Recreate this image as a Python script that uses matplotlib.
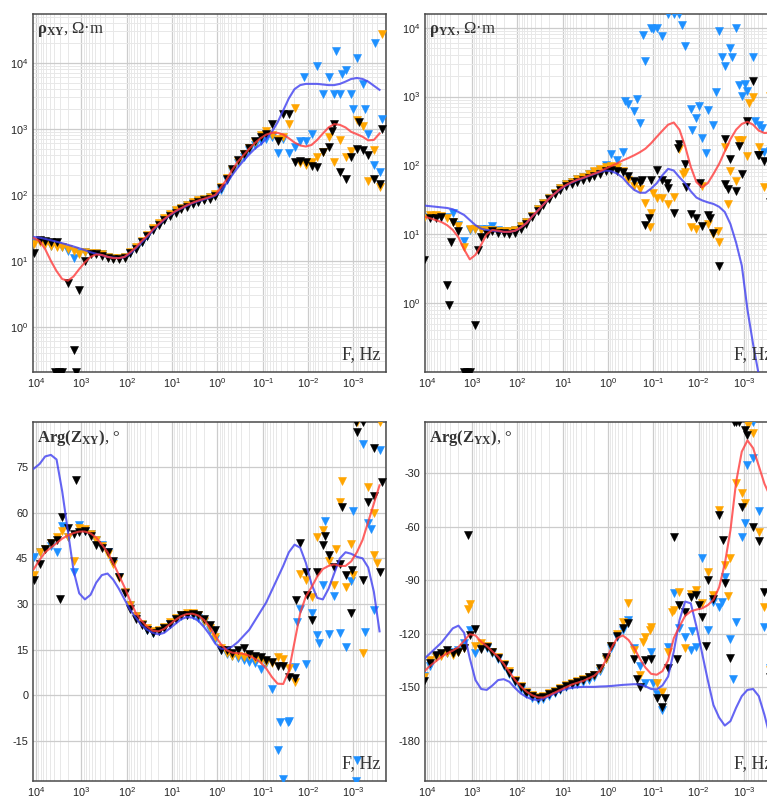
import numpy as np
import matplotlib
matplotlib.use("Agg")
import matplotlib.pyplot as plt
from matplotlib.ticker import FixedLocator, LogLocator, MultipleLocator, FuncFormatter, NullFormatter

plt.rcParams['font.family'] = ['Liberation Sans', 'DejaVu Sans']
plt.rcParams['mathtext.fontset'] = 'custom'
plt.rcParams['mathtext.rm'] = 'Liberation Serif'
plt.rcParams['mathtext.bf'] = 'Liberation Serif:bold'
plt.rcParams['mathtext.it'] = 'Liberation Serif:italic'
plt.rcParams['mathtext.sf'] = 'Liberation Sans'
plt.rcParams['axes.unicode_minus'] = False

# log10 of frequency (Hz) for every sounding
log_f = [4.05, 3.925, 3.8, 3.675, 3.55, 3.425, 3.3, 3.175,
         3.05, 2.925, 2.8, 2.675, 2.55, 2.425, 2.3, 2.175,
         2.05, 1.925, 1.8, 1.675, 1.55, 1.425, 1.3, 1.175,
         1.05, 0.925, 0.8, 0.675, 0.55, 0.425, 0.3, 0.175,
         0.05, -0.075, -0.2, -0.325, -0.45, -0.575, -0.7, -0.825,
         -0.95, -1.075, -1.2, -1.325, -1.45, -1.575, -1.7, -1.825,
         -1.95, -2.075, -2.2, -2.325, -2.45, -2.575, -2.7, -2.825,
         -2.95, -3.075, -3.2, -3.325, -3.45, -3.575]

# ---------------- rho_xy, Ohm*m ----------------
rxy_red = [22, 20, 15, 10, 7, 5.3, 5.0, 5.8,
           7.5, 9.5, 11.5, 12.5, 12.3, 11.5, 11, 11,
           11.5, 13.5, 16, 20, 24, 30, 36, 43,
           50, 57, 63, 70, 76, 82, 87, 93,
           100, 130, 170, 240, 320, 400, 500, 610,
           720, 820, 870, 870, 820, 720, 620, 560,
           540, 570, 680, 850, 1050, 1180, 1150, 1050,
           900, 830, 760, 670, 680, 850]
rxy_blue = [23, 22.5, 21.5, 20.5, 19.5, 18.5, 17.5, 16.5,
            15.5, 14.5, 13.5, 12.8, 12.2, 11.5, 11.2, 11,
            11.4, 13, 15.5, 19, 23, 29, 35, 42,
            49, 56, 62, 68, 75, 80, 85, 90,
            97, 115, 150, 200, 260, 330, 410, 500,
            580, 700, 900, 1250, 1900, 2900, 4000, 4600,
            4800, 4800, 4800, 4700, 4600, 4600, 4800, 5200,
            5700, 5900, 5700, 5200, 4500, 3900]
rxy_k = [13, 21, 20, 19.5, 19, 0.21, 4.6, 0.45,
         3.6, 10, 12.5, 12.5, 12, 11, 10.5, 10.5,
         11, 13, 15, 19, 23.5, 29, 35, 41,
         47, 54, 60, 66, 72, 78, 83, 88,
         95, 125, 175, 250, 340, 420, 520, 650,
         760, 850, 1200, 650, 1700, 1700, 320, 330,
         310, 270, 260, 450, 540, 1200, 220, 175,
         370, 500, 470, 400, 174, 148]
rxy_o = [18, 19, 18, 17, 16, 16, 15, 14,
         12.5, 13.5, 13, 13, 12.5, 11.5, 11, 11,
         11.5, 13.5, 16, 20, 25, 31, 37, 44,
         51, 58, 64, 71, 77, 83, 88, 94,
         102, 130, 180, 240, 330, 420, 520, 640,
         800, 930, 820, 710, 760, 1200, 2100, 300,
         280, 310, 370, 450, 740, 320, 680, 370,
         460, 1350, 1100, 160, 470, 130]
rxy_b = [19, 20, 19, 17, 16.5, 16, 14, 11,
         13, 13.5, 13, 13, 12.5, 11.5, 11, 11,
         11.5, 13, 15.5, 19.5, 24, 30, 36, 43,
         50, 57, 63, 70, 76, 82, 87, 92,
         100, 120, 165, 230, 300, 380, 470, 560,
         650, 700, 750, 430, 700, 430, 525, 650,
         660, 830, 9100, 3400, 6000, 3400, 3400, 7800,
         3400, 11700, 4800, 830, 280, 220]
rxy_k_xf = [3.58, 3.5, 3.12, -2.53, -3.12, -3.63]
rxy_k_xv = [0.21, 0.21, 0.21, 930, 1260, 1000]
rxy_o_xf = [-3.63]
rxy_o_xv = [27000]
rxy_b_xf = [-1.9, -2.62, -2.75, -2.99, -3.25, -3.47, -3.63]
rxy_b_xv = [6000, 15000, 6800, 2000, 2000, 20000, 1400]

# ---------------- rho_yx, Ohm*m ----------------
ryx_red = [18, 17, 16, 15, 13.5, 11.5, 9, 6,
           4.3, 5.0, 7, 10, 11.5, 11.2, 10.8, 10.8,
           11.2, 12.5, 14.5, 18, 22, 27, 33, 39,
           46, 52, 57, 62, 66, 71, 76, 82,
           90, 98, 107, 118, 128, 140, 155, 175,
           210, 260, 320, 390, 420, 330, 190, 95,
           57, 48, 55, 75, 105, 160, 240, 330,
           400, 430, 390, 320, 295, 300]
ryx_blue = [26, 25.5, 25, 24.5, 24, 23, 21, 19,
            16, 13.5, 12, 11.5, 11.2, 11, 10.8, 10.8,
            11.2, 12.5, 14.5, 18, 22, 27, 33, 39,
            45, 51, 56, 61, 65, 70, 75, 80,
            84, 82, 76, 66, 53, 44, 40, 40,
            46, 55, 72, 89, 84, 67, 55, 42,
            34, 31, 29, 27.5, 25, 21, 14, 7.5,
            3.5, 0.8, 0.25, 0.09, 0.03, 0.01]
ryx_k = [4.2, 17, 17, 17.5, 1.85, 15, 11, 0.1,
         0.1, 0.48, 9, 10, 11, 10.5, 10.5, 10.2,
         10.5, 12, 14, 17.5, 21.5, 26.5, 32, 38,
         44, 50, 54, 58, 62, 66, 70, 76,
         82, 85, 84, 80, 71, 59, 57, 13.8,
         62, 87, 62, 47, 20, 205, 104, 19.5,
         17, 13, 19, 10.5, 3.5, 240, 124, 42,
         75, 435, 1700, 140, 117, 29]
ryx_o = [17, 19, 19, 18.5, 17, 15, 13, 6.5,
         12, 12, 11.5, 11.5, 11.5, 11, 11, 11,
         11.5, 13, 15, 18.5, 23, 28, 34, 40,
         47, 53, 58, 63, 68, 74, 82, 90,
         95, 98, 95, 83, 62, 50, 46, 28,
         20, 33, 34, 27, 35, 175, 80, 12.5,
         12, 50, 14, 10, 7.6, 182, 83, 60,
         230, 138, 1000, 186, 48, 1020]
ryx_b = [17, 18, 18, 18, 17.5, 20, 13.5, 8,
         11.5, 12, 12, 12, 13, 11.5, 11, 11,
         11.5, 13, 15, 18.5, 23, 28, 34, 40,
         47, 53, 58, 63, 68, 74, 80, 87,
         100, 144, 120, 155, 790, 620, 415, 3300,
         10000, 10000, 7600, 15800, 15800, 15800, 5500, 660,
         490, 250, 630, 380, 9000, 2800, 5000, 10000,
         1030, 1200, 3700, 390, 155, 160]
ryx_k_xf = [3.51, 3.46, 3.12, 2.87, -0.74, -0.9, -1.29, -1.55, -1.73, -2.03, -2.25, -2.57, -2.65, -2.89, -3.3]
ryx_k_xv = [0.93, 7.8, 0.1, 5.9, 62, 17, 55, 180, 48, 55, 17, 53, 45, 190, 140]
ryx_o_xf = [-0.92, -1.0, -1.66, -2.42, -2.65, -2.87, -3.11]
ryx_o_xv = [12.5, 40, 74, 11, 27.5, 230, 815]
ryx_b_xf = [-0.37, -0.63, -0.77, -0.99, -1.64, -1.86, -2.01, -2.16, -2.38, -2.52, -2.74, -2.89, -3.02, -3.25, -3.39]
ryx_b_xv = [850, 910, 7900, 9500, 11000, 325, 740, 150, 1150, 3700, 3700, 1450, 1500, 435, 355]

# ---------------- Arg(Z_xy), degrees ----------------
pxy_red = [41.5, 44.5, 47, 48.5, 50, 51.5, 52.5, 53.3,
           53.8, 53.8, 53.2, 51.8, 49.5, 47, 43.5, 39.5,
           35.5, 31, 27, 24.5, 22.5, 21.2, 21, 21.8,
           23.3, 24.8, 26, 26.7, 26.8, 26.2, 24.8, 22.5,
           19.5, 16.8, 14.8, 14, 13.8, 13.6, 13, 12,
           10.8, 8.8, 6, 3.8, 3.7, 8, 17.5, 27,
           32.5, 35.5, 39, 41.5, 42.5, 43, 42.5, 42.5,
           44, 47, 51, 57, 63, 69]
pxy_blue = [74.5, 76, 78.5, 79, 77.5, 67, 54, 41,
            33.5, 31.5, 33, 37, 39.5, 40, 38, 35,
            31.5, 28, 25.5, 23, 21.5, 20.5, 20, 20.5,
            22, 23.5, 25, 25.7, 25.5, 24.5, 22.5, 20,
            17, 15.3, 15.2, 16, 17.5, 19.5, 21.5, 24.5,
            27.5, 30.5, 34.5, 38.5, 42.5, 47, 49.5, 48.5,
            43.5, 36.5, 32, 31.5, 35, 40, 45, 47,
            46.5, 45.5, 45, 42, 34, 21]
pxy_k = [38, 43, 48, 50, 51, 58.6, 55, 53,
         53.5, 54, 52.5, 49.5, 48.5, 47, 44, 39,
         33.5, 28.5, 25, 23, 21.5, 20.5, 21, 22,
         23.5, 25, 26.3, 26.5, 26.7, 26.3, 25.2, 23,
         21.4, 14.8, 15, 14, 14.8, 15.5, 13.5, 13,
         12.5, 11.5, 11, 9.5, 9.5, 6, 5.5, 50,
         40.5, 24.6, 40.5, 49.3, 46, 42.2, 43, 39.5,
         27, 86.5, 38, 63.5, 65.5, 40.5]
pxy_o = [39.4, 47, 48, 50, 52, 54, 52, 44,
         55, 54.5, 53, 51, 49, 46.5, 43, 38.5,
         34, 29.5, 26, 23.5, 22, 21, 21.5, 22.5,
         24, 25.5, 26.5, 27, 27, 26.5, 24.5, 22,
         19, 15.5, 14, 13, 12.8, 12.5, 13, 12,
         11.5, 11, 10.5, 12.6, 12, 8.8, 4.4, 40,
         37.8, 32.3, 52, 54.2, 44, 36.1, 63.5, 35.6,
         49.8, 89.8, 13.9, 68.4, 46, 89.8]
pxy_b = [45.4, 47, 48, 49, 47, 55.6, 52, 40.5,
         56, 54, 53, 51, 49.5, 47, 43.5, 39,
         34, 29.5, 26, 23.5, 21.5, 20.5, 21, 22.2,
         23.5, 25, 26, 26.5, 26.5, 25.5, 24, 21.5,
         18.5, 15, 13.5, 13, 12.2, 11.5, 11, 10.5,
         8.5, 10.5, 1.9, -18, -27.7, -8.5, 9.3, 28.5,
         10.4, 27, 19.8, 36.1, 20, 32.5, 20.5, 16,
         37.7, -21.4, 82.7, 56.6, 27.9, 80.5]
pxy_k_xf = [3.47, 3.12, -1.74, -1.97, -2.38, -2.75, -2.97, -3.05, -3.2, -3.46, -3.63]
pxy_k_xv = [31.7, 70.6, 31.2, 32.8, 52.3, 61.9, 41, 89.8, 89.8, 81.4, 70]
pxy_o_xf = [-2.62, -2.74, -3.0, -3.45, -3.52]
pxy_o_xv = [48.2, 70.4, 39.4, 60, 43.5]
pxy_b_xf = [-1.37, -1.55, -1.75, -2.23, -2.38, -2.99, -3.05, -3.25, -3.39]
pxy_b_xv = [-8.8, -8.8, 24, 17.3, 57.3, 60.5, -28.1, 20.8, 54.8]

# ---------------- Arg(Z_yx), degrees ----------------
pyx_red = [-141, -138, -135.5, -133, -131, -129.5, -127.5, -124,
           -120.3, -121, -124.5, -127, -130, -133, -137, -141.5,
           -146, -149.5, -152.5, -154.5, -155.7, -155.8, -154.5, -153,
           -151.5, -150, -148.5, -147.5, -146.5, -145, -143.5, -140.5,
           -135, -128, -122.5, -121, -123.5, -128, -134, -139,
           -142.5, -143, -141, -135, -122.5, -116, -110, -107.5,
           -106.5, -105.8, -104, -101, -94, -81, -62, -35,
           -18, -11.7, -16, -26, -36, -43]
pyx_blue = [-134, -131, -128, -125, -121, -117, -115.5, -119.5,
            -133.8, -146, -151, -151.5, -149, -146, -145.5, -147,
            -150.5, -153.5, -155.5, -156.8, -157.2, -156.5, -155, -153.5,
            -152, -151, -150.3, -150, -149.8, -149.8, -149.8, -149.6,
            -149.5, -149.3, -149, -148.7, -148.5, -148.3, -148.5, -149.5,
            -151, -151.2, -149, -144, -130, -112.5, -102, -103,
            -116, -131, -146, -160, -167, -171.5, -169, -161.5,
            -155, -151.5, -151, -155, -165.5, -178]
pyx_k = [-146.5, -136.6, -132, -130.6, -129.2, -131, -130, -128.2,
         -120.5, -117.4, -128.5, -127.5, -130.5, -133.5, -137.5, -142,
         -146.5, -150, -153, -155, -156, -155.5, -154, -152.5,
         -151, -149.5, -148, -147, -146, -144.5, -143, -139,
         -133, -127, -121.4, -117, -114, -134.4, -149.7, -134.9,
         -134.4, -156.3, -161.3, -139.4, -65.6, -103.9, -107.6, -99.2,
         -98.3, -110.4, -89.9, -100.8, -53.4, -91.7, -133.8, -1.4,
         -49.1, -8.5, -60, -68.3, -96.4, -144.5]
pyx_o = [-144, -134.6, -133, -132.5, -131, -132, -130, -128,
         -103.5, -127, -125, -127, -130, -133, -137, -141,
         -146, -149.5, -152.5, -154.5, -155.5, -155, -153.5, -152,
         -150.5, -149, -147.5, -146.5, -145.5, -144.5, -143, -140,
         -134, -127, -120, -113.2, -103, -129.2, -143.2, -121.7,
         -116.4, -147.8, -152.5, -130, -106.7, -96.4, -128.2, -98,
         -95.5, -103, -85.2, -98.3, -50.6, -81.5, -77.7, -35.6,
         -40.9, -2, -7.6, -62.8, -104.9, -140.4]
pyx_b = [-143.5, -138, -133, -132, -131, -130.5, -129, -125,
         -118, -131, -127, -128, -131, -134, -138, -142.5,
         -147, -151, -154, -156, -157, -156.5, -155, -153,
         -151.5, -150, -149, -148, -147, -146, -144.5, -141,
         -134, -128, -122, -118, -112.3, -128.2, -138.2, -147.8,
         -130.1, -153.9, -162.8, -127.3, -97.3, -117, -121.7, -129.2,
         -127.3, -77.7, -117.9, -102, -105, -88, -123.2, -113.3,
         -65.6, -25.3, -21.6, -51.5, -116, -139.4]
pyx_k_xf = [3.09, -0.63, -1.25, -1.51, -2.01, -2.16, -2.53, -2.78, -2.88, -3.02]
pyx_k_xv = [-64.6, -145.5, -156.3, -134.4, -103.9, -126.9, -67.4, -1.4, -1.4, -5.7]
pyx_o_xf = [3.09, -0.77, -0.92, -1.4, -2.65, -3.02, -3.12]
pyx_o_xv = [-106, -124.5, -118, -107.6, -98.9, -46.5, -2]
pyx_b_xf = [-1.0, -1.85, -2.51, -2.75, -3.02, -3.2]
pyx_b_xv = [-147.8, -118.3, -102, -145.6, -58, -1.4]

C_BLACK = '#000000'
C_ORANGE = '#ffa500'
C_CYAN = '#1e90ff'
C_RED = '#ff3b3b'
C_BLUE = '#3f3ff0'

fig = plt.figure(figsize=(7.67, 7.96), dpi=100)

W = 0.461
ax_rxy = fig.add_axes([0.0424, 0.533, W, 0.4494])
ax_ryx = fig.add_axes([0.5537, 0.533, W, 0.4494])
ax_pxy = fig.add_axes([0.0424, 0.0192, W, 0.4506])
ax_pyx = fig.add_axes([0.5537, 0.0192, W, 0.4506])


def dec_label(v, pos):
    if v <= 0:
        return ''
    e = int(round(np.log10(v)))
    return r'$\mathsf{10^{%d}}$' % e


def draw(ax, obs, extras, red, blue, xlim):
    f = 10 ** np.array(log_f)
    # observed sites: cyan below, orange, black on top
    for vals, (xf, xv), col, z in zip(obs, extras, [C_CYAN, C_ORANGE, C_BLACK], [3, 4, 5]):
        ax.plot(f, vals, 'v', color=col, ms=5.6, mec=col, mew=0.4, zorder=z)
        ax.plot(10 ** np.array(xf), xv, 'v', color=col, ms=5.6, mec=col, mew=0.4, zorder=z)
    ax.plot(f, blue, color=C_BLUE, lw=1.5, alpha=0.8, zorder=6)
    ax.plot(f, red, color=C_RED, lw=1.5, alpha=0.8, zorder=7)

    ax.set_xscale('log')
    ax.set_xlim(*xlim)
    ax.xaxis.set_major_locator(FixedLocator([10.0 ** k for k in range(-3, 5)]))
    ax.xaxis.set_major_formatter(FuncFormatter(dec_label))
    ax.xaxis.set_minor_locator(LogLocator(base=10, subs=np.arange(2, 10), numticks=30))
    ax.xaxis.set_minor_formatter(NullFormatter())

    ax.grid(True, which='major', color='#cccccc', lw=0.9, zorder=0)
    ax.grid(True, which='minor', axis='x', color='#e8e8e8', lw=0.7, zorder=0)
    ax.set_axisbelow(True)
    ax.tick_params(which='both', length=0, labelsize=7.8, colors='#222222', pad=3)
    for s in ax.spines.values():
        s.set_color('#4a4a4a')
        s.set_linewidth(1.1)
    ax.text(0.983, 0.025, 'F, Hz', transform=ax.transAxes, ha='right', va='bottom',
            family='Liberation Serif', fontsize=13, color='#333333', zorder=10)


xl_left = (10 ** 4.08, 10 ** -3.72)
xl_right = (10 ** 4.045, 10 ** -3.755)

# apparent resistivity panels
for ax, obs, ext, red, blue, xl, ylim, name in [
        (ax_rxy, (rxy_b, rxy_o, rxy_k), ((rxy_b_xf, rxy_b_xv), (rxy_o_xf, rxy_o_xv), (rxy_k_xf, rxy_k_xv)),
         rxy_red, rxy_blue, xl_left, (10 ** -0.68, 10 ** 4.74), 'XY'),
        (ax_ryx, (ryx_b, ryx_o, ryx_k), ((ryx_b_xf, ryx_b_xv), (ryx_o_xf, ryx_o_xv), (ryx_k_xf, ryx_k_xv)),
         ryx_red, ryx_blue, xl_right, (10 ** -1.0, 10 ** 4.2), 'YX')]:
    draw(ax, obs, ext, red, blue, xl)
    ax.set_yscale('log')
    ax.set_ylim(*ylim)
    ax.yaxis.set_major_locator(FixedLocator([10.0 ** k for k in range(0, 5)]))
    ax.yaxis.set_major_formatter(FuncFormatter(dec_label))
    ax.yaxis.set_minor_locator(LogLocator(base=10, subs=np.arange(2, 10), numticks=30))
    ax.yaxis.set_minor_formatter(NullFormatter())
    ax.grid(True, which='minor', axis='y', color='#e8e8e8', lw=0.7, zorder=0)
    ax.text(0.012, 0.982, r'$\mathbf{\rho_{%s}}$' % name + ', Ω·m', transform=ax.transAxes,
            ha='left', va='top', family='Liberation Serif', fontsize=12, color='#333333', zorder=10)

# impedance phase panels
for ax, obs, ext, red, blue, xl, ylim, step, name in [
        (ax_pxy, (pxy_b, pxy_o, pxy_k), ((pxy_b_xf, pxy_b_xv), (pxy_o_xf, pxy_o_xv), (pxy_k_xf, pxy_k_xv)),
         pxy_red, pxy_blue, xl_left, (-28.1, 89.8), 15, 'XY'),
        (ax_pyx, (pyx_b, pyx_o, pyx_k), ((pyx_b_xf, pyx_b_xv), (pyx_o_xf, pyx_o_xv), (pyx_k_xf, pyx_k_xv)),
         pyx_red, pyx_blue, xl_right, (-202.4, -1.4), 30, 'YX')]:
    draw(ax, obs, ext, red, blue, xl)
    ax.set_ylim(*ylim)
    ax.yaxis.set_major_locator(MultipleLocator(step))
    ax.text(0.012, 0.982, r'$\mathbf{Arg(Z_{%s})}$' % name + ', °', transform=ax.transAxes,
            ha='left', va='top', family='Liberation Serif', fontsize=12, color='#333333', zorder=10)

fig.savefig('out.png', dpi=100)
